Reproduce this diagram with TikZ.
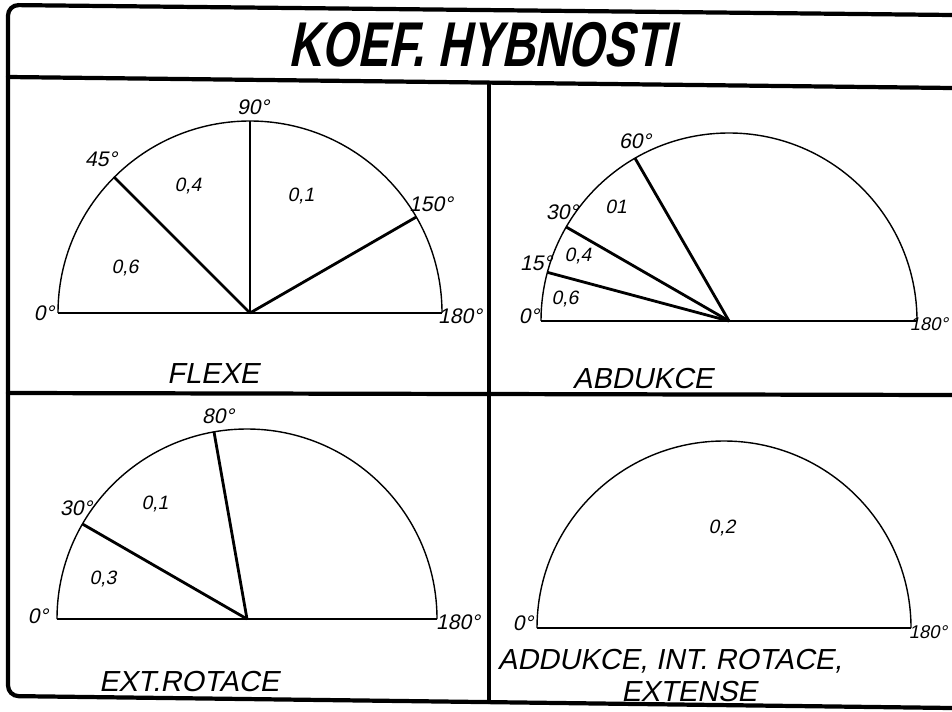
\documentclass[tikz,border=0pt]{standalone}
\usepackage{fontspec}
\setmainfont{Liberation Sans}
\newfontfamily\techfont[FakeSlant=0.2]{Liberation Sans}
\newfontfamily\titlefont[FakeSlant=0.2,FakeStretch=0.73]{Liberation Sans}
\usetikzlibrary{calc}

\begin{document}
\begin{tikzpicture}[x=0.02cm,y=0.02cm,
  frame/.style={line width=2.4pt,line cap=round},
  rim/.style={line width=0.8pt},
  base/.style={line width=1.2pt},
  ray/.style={line width=1.6pt},
  deg/.style={font=\techfont\fontsize{12}{14}\selectfont,inner sep=0pt},
  edgedeg/.style={font=\techfont\fontsize{10.5}{12}\selectfont,inner sep=0pt},
  val/.style={font=\techfont\fontsize{11}{13}\selectfont,inner sep=0pt},
  caption/.style={font=\techfont\fontsize{16.5}{19}\selectfont,inner sep=0pt}]
  \useasboundingbox (0,0) rectangle (952,711);
  % frame, a little skewed like the scan
  \draw[frame,rounded corners=6] (952,696) -- (8,706) -- (8,15) -- (952,3);
  \draw[frame] (8,634) -- (952,623);
  \draw[frame] (8,318) -- (952,316);
  \draw[frame] (489,628) -- (489,9);
  \node[font=\titlefont\bfseries\fontsize{36}{40}\selectfont,inner sep=0pt] (title) at (482,666) {KOEF. HYBNOSTI};

  % FLEXE
  \coordinate (fc) at (250,398);
  \draw[rim] (fc) ++(-192,0) coordinate (f0) arc (180:0:192) coordinate (f180);
  \draw[base] (f0) -- (f180);
  \draw[base] (fc) -- ++(90:192) coordinate (f90);
  \foreach \a in {45,150}
    \draw[ray] (fc) -- ++({180-\a}:192) coordinate (f\a);
  \node[deg] (f0l) at (44,398) {0°};
  \node[deg] (f45l) at (101,552) {45°};
  \node[deg] (f90l) at (253,604) {90°};
  \node[deg] (f150l) at (431,507) {150°};
  \node[deg] (f180l) at (460,395) {180°};
  \node[val] (fv1) at (125,443) {0,6};
  \node[val] (fv2) at (188,525) {0,4};
  \node[val] (fv3) at (301,515) {0,1};
  \node[caption] (fcap) at (213,337) {FLEXE};

  % ABDUKCE
  \coordinate (ac) at (729,390);
  \draw[rim] (ac) ++(-188,0) coordinate (a0) arc (180:0:188) coordinate (a180);
  \draw[base] (a0) -- (a180);
  \foreach \a in {15,30,60}
    \draw[ray] (ac) -- ++({180-\a}:188) coordinate (a\a);
  \node[deg] (a0l) at (529,395) {0°};
  \node[deg] (a15l) at (536,448) {15°};
  \node[deg] (a30l) at (562,499) {30°};
  \node[deg] (a60l) at (635,570) {60°};
  \node[edgedeg] (a180l) at (929,387) {180°};
  \node[val] (av1) at (565,412) {0,6};
  \node[val] (av2) at (578,455) {0,4};
  \node[val] (av3) at (616,504) {01};
  \node[caption] (acap) at (643,332) {ABDUKCE};

  % EXT. ROTACE
  \coordinate (ec) at (247,92);
  \draw[rim] (ec) ++(-190,0) coordinate (e0) arc (180:0:190) coordinate (e180);
  \draw[base] (e0) -- (e180);
  \foreach \a in {30,80}
    \draw[ray] (ec) -- ++({180-\a}:190) coordinate (e\a);
  \node[deg] (e0l) at (38,95) {0°};
  \node[deg] (e30l) at (76,203) {30°};
  \node[deg] (e80l) at (218,295) {80°};
  \node[deg] (e180l) at (458,89) {180°};
  \node[val] (ev1) at (103,132) {0,3};
  \node[val] (ev2) at (155,207) {0,1};
  \node[caption] (ecap) at (189,29) {EXT.ROTACE};

  % ADDUKCE, INT. ROTACE, EXTENSE
  \coordinate (dc) at (724,83);
  \draw[rim] (dc) ++(-187,0) coordinate (d0) arc (180:0:187) coordinate (d180);
  \draw[base] (d0) -- (d180);
  \node[deg] (d0l) at (523,88) {0°};
  \node[edgedeg] (d180l) at (928,79) {180°};
  \node[val] (dv1) at (722,183) {0,2};
  \node[caption] (dcap1) at (670,50) {ADDUKCE, INT. ROTACE,};
  \node[caption] (dcap2) at (689,19) {EXTENSE};
\end{tikzpicture}
\end{document}
